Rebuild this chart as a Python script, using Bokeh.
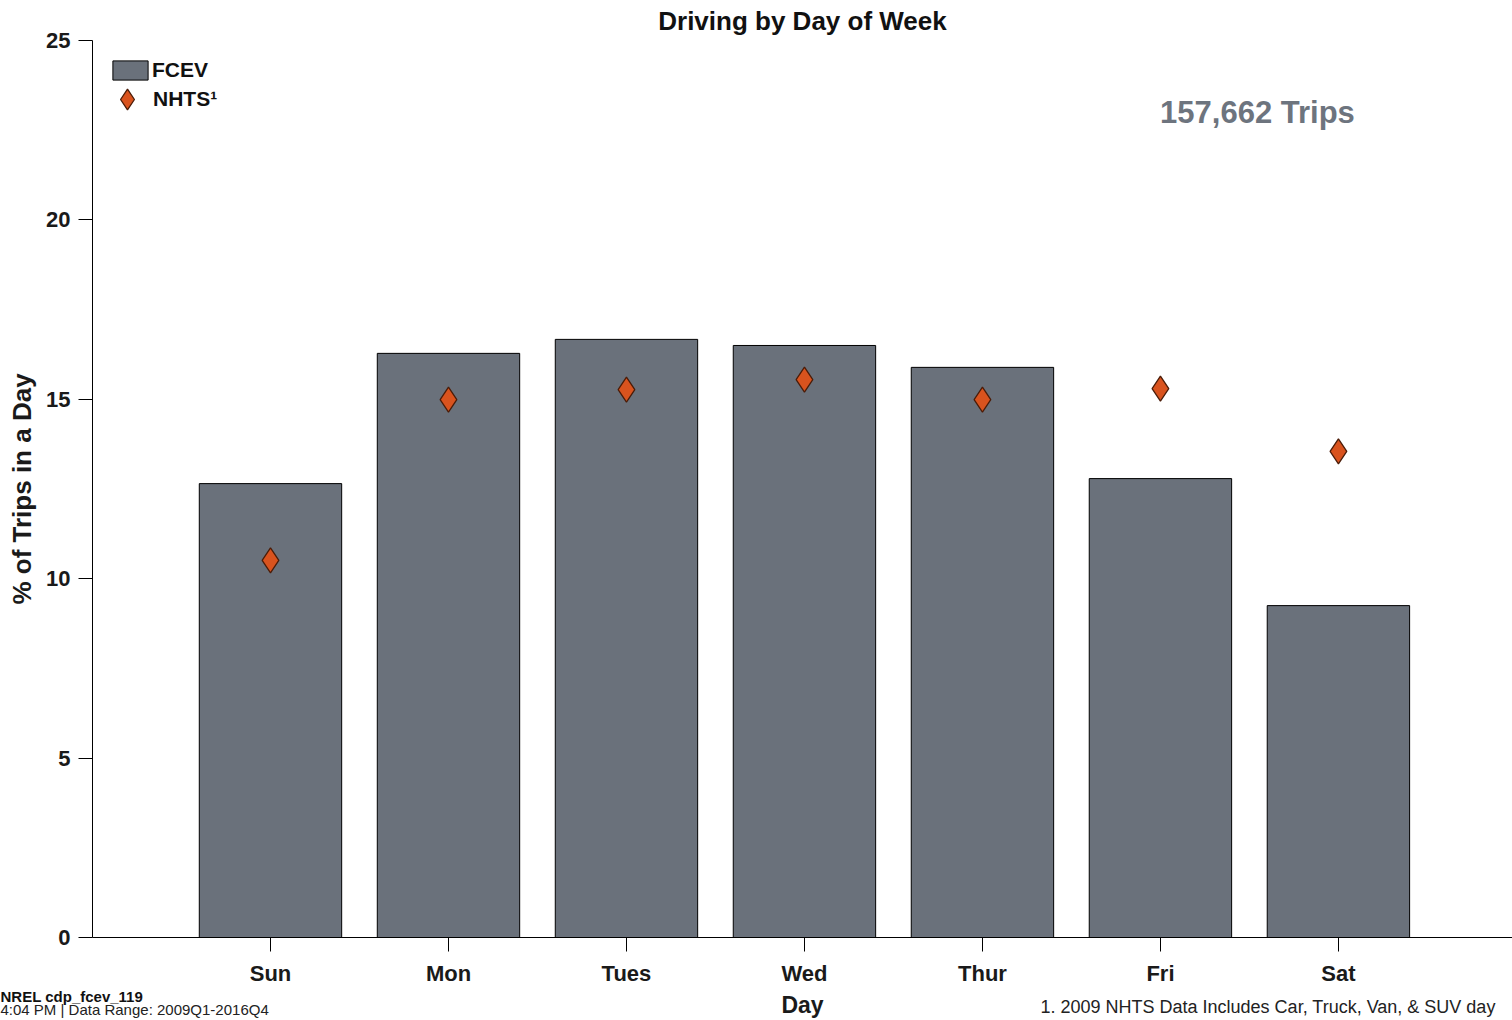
from bokeh.plotting import figure
from bokeh.models import (ColumnDataSource, Label, Legend, LegendItem,
                          FixedTicker, Range1d, Title)
from bokeh.embed import file_html
from bokeh.resources import INLINE

# ---- data ----
days = ["Sun", "Mon", "Tues", "Wed", "Thur", "Fri", "Sat"]
fcev_pct = [12.65, 16.28, 16.67, 16.50, 15.89, 12.79, 9.25]
nhts_pct = [10.51, 14.99, 15.27, 15.55, 14.99, 15.30, 13.55]
y_ticks = [0, 5, 10, 15, 20, 25]
trip_count_text = "157,662 Trips"
title_text = "Driving by Day of Week"
x_label_text = "Day"
y_label_text = "% of Trips in a Day"
footnote_text = "1. 2009 NHTS Data Includes Car, Truck, Van, & SUV day"
id_text = "NREL cdp_fcev_119"
date_text = "4:04 PM | Data Range: 2009Q1-2016Q4"

positions = list(range(1, len(days) + 1))

FONT = "Liberation Sans"
BAR_COLOR = "#6a717b"
DIAMOND_COLOR = "#d9531e"
DIAMOND_LINE = "#4a1c08"

src = ColumnDataSource(dict(x=positions, fcev=fcev_pct, nhts=nhts_pct, day=days))

p = figure(width=1512, height=1020, output_backend="svg", toolbar_location=None,
           x_range=Range1d(0, 7.978), y_range=Range1d(0, 25),
           min_border_left=92, min_border_right=0, min_border_top=40,
           min_border_bottom=83)

p.outline_line_color = None
p.xgrid.visible = False
p.ygrid.visible = False
p.background_fill_color = "white"
p.border_fill_color = "white"

bars = p.vbar(x="x", top="fcev", width=0.8, source=src,
              fill_color=BAR_COLOR, line_color="black", line_width=1)
diam = p.scatter(x="x", y="nhts", source=src, marker="diamond", size=25,
                 fill_color=DIAMOND_COLOR, line_color=DIAMOND_LINE, line_width=1.3)

# ---- axes ----
xa = p.xaxis[0]
xa.ticker = FixedTicker(ticks=positions)
xa.major_label_overrides = {i: d for i, d in zip(positions, days)}
ya = p.yaxis[0]
ya.ticker = FixedTicker(ticks=y_ticks)
ya.axis_label = y_label_text

for ax in (xa, ya):
    ax.minor_tick_line_color = None
    ax.major_tick_in = 0
    ax.major_tick_out = 14
    ax.axis_line_color = "black"
    ax.major_tick_line_color = "black"
    ax.major_label_text_font = FONT
    ax.major_label_text_font_style = "bold"
    ax.major_label_text_font_size = "22px"
    ax.major_label_text_color = "#1a1a1a"
    ax.axis_label_text_font = FONT
    ax.axis_label_text_font_style = "bold"
    ax.axis_label_text_color = "#1a1a1a"

ya.axis_label_text_font_size = "26px"
xa.major_label_standoff = 9
ya.major_label_standoff = 8
ya.axis_label_standoff = 6

# ---- title ----
p.title.text = title_text
p.title.align = "center"
p.title.vertical_align = "middle"
p.title.text_font = FONT
p.title.text_font_style = "bold"
p.title.text_font_size = "26px"
p.title.text_color = "#111111"
p.title.standoff = 8

# ---- legends ----
leg1 = Legend(items=[LegendItem(label="FCEV", renderers=[bars])],
              location=(16, 855), margin=0, padding=0,
              glyph_width=44, glyph_height=24, label_standoff=0,
              border_line_color=None, background_fill_alpha=0,
              label_text_font=FONT, label_text_font_style="bold",
              label_text_font_size="21px", label_text_color="#111111")
leg2 = Legend(items=[LegendItem(label="NHTS\u00b9", renderers=[diam])],
              location=(9, 812), margin=0, padding=0,
              glyph_width=52, glyph_height=52, label_standoff=0,
              border_line_color=None, background_fill_alpha=0,
              label_text_font=FONT, label_text_font_style="bold",
              label_text_font_size="21px", label_text_color="#111111")
p.add_layout(leg1)
p.add_layout(leg2)

# ---- annotations ----
p.add_layout(Label(x=6.545, y=23, text=trip_count_text, text_align="center",
                   text_baseline="middle", text_font=FONT, text_font_style="bold",
                   text_font_size="31px", text_color="#6d747e"))


def below_text(text, size_px, row_h, align="left", offset=0.0,
               style="normal", color="#222222"):
    """Title in the bottom panel, centred in a row of height row_h px."""
    text_h = 1.15 * size_px
    return Title(text=text, align=align, offset=offset, vertical_align="middle",
                 standoff=row_h - 2 - text_h, text_font=FONT,
                 text_font_size=f"{size_px}px", text_font_style=style,
                 text_color=color)


# rows stacked under the x axis
p.add_layout(below_text(id_text, 15, 16, offset=-92, style="bold",
                        color="#111111"), "below")
p.add_layout(below_text(x_label_text, 23, 0, align="center", style="bold",
                        color="#1a1a1a"), "below")
p.add_layout(below_text(footnote_text, 18, 6, offset=948), "below")
p.add_layout(below_text(date_text, 15, 0, offset=-92), "below")

open("out.html", "w").write(file_html(p, INLINE))
